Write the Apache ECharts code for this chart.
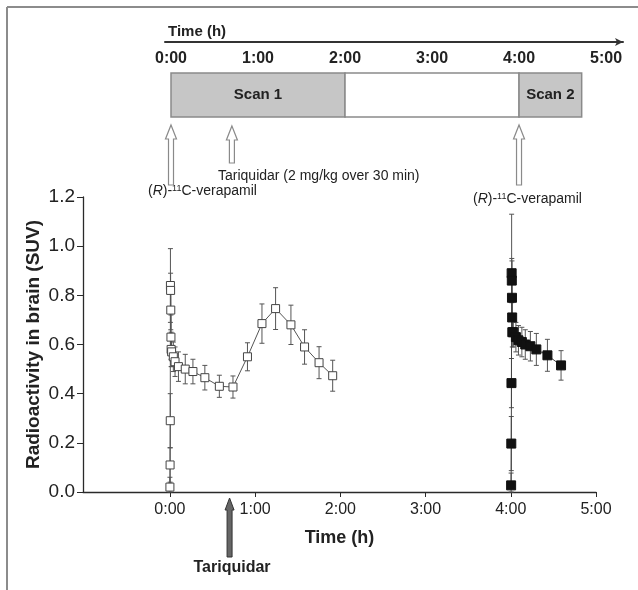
<!DOCTYPE html>
<html><head><meta charset="utf-8">
<script src="https://cdn.jsdelivr.net/npm/echarts@6/dist/echarts.min.js"></script>
<style>html,body{margin:0;padding:0;background:#fff}#c{width:638px;height:590px}</style>
</head><body><div id="c"></div>
<script>
// ---------- data ----------
const scan1Time = [0.000,0.002,0.004,0.006,0.008,0.010,0.012,0.014,0.02,0.04,0.06,0.10,0.18,0.27,0.41,0.58,0.74,0.91,1.08,1.24,1.42,1.58,1.75,1.91];
const scan1SUV  = [0.02,0.11,0.29,0.84,0.82,0.74,0.63,0.58,0.57,0.55,0.53,0.51,0.50,0.49,0.465,0.43,0.427,0.55,0.685,0.746,0.68,0.59,0.526,0.473];
const scan1SD   = [0.04,0.07,0.11,0.15,0.07,0.08,0.09,0.07,0.06,0.06,0.06,0.06,0.06,0.05,0.05,0.045,0.045,0.057,0.08,0.085,0.08,0.07,0.065,0.063];

const scan2Time = [4.004,4.006,4.008,4.010,4.012,4.014,4.016,4.018,4.03,4.06,4.09,4.13,4.17,4.23,4.30,4.43,4.59];
const scan2SUV  = [0.027,0.197,0.443,0.89,0.86,0.79,0.71,0.65,0.65,0.63,0.617,0.61,0.60,0.593,0.58,0.556,0.515];
const scan2SD   = [0.05,0.11,0.10,0.24,0.09,0.15,0.07,0.06,0.06,0.06,0.06,0.06,0.06,0.06,0.065,0.065,0.06];

const timeTicks = [0,1,2,3,4,5];

// timeline (top panel)
const scanStart = [0, 2, 4];
const scanEnd   = [2, 4, 4.72];
const scanLabel = ['Scan 1', '', 'Scan 2'];
const scanKind  = ['scan', 'gap', 'scan'];

// events (hours)
const verapamilTimes = [0, 4];
const tariquidarTime = 0.7;

// ---------- style ----------
const FF = "'Liberation Sans', Arial, Helvetica, sans-serif";
const AX = '#2a2a2a';
const boxFill = {scan: '#c6c6c6', gap: '#ffffff'};

function tfmt(v){ return Math.round(v) + ':00'; }
const pairs = (xs, ys) => xs.map((x, i) => [x, ys[i]]);
const triples = (xs, ys, es) => xs.map((x, i) => [x, ys[i], es[i]]);

function errRender(params, api){
  const x = api.value(0), y = api.value(1), e = api.value(2);
  const hi = api.coord([x, y + e]);
  const lo = api.coord([x, Math.max(0, y - e)]);
  const cw = 2.5;
  const st = {stroke: '#555', lineWidth: 1};
  return {type: 'group', children: [
    {type: 'line', shape: {x1: hi[0], y1: hi[1], x2: lo[0], y2: lo[1]}, style: st},
    {type: 'line', shape: {x1: hi[0]-cw, y1: hi[1], x2: hi[0]+cw, y2: hi[1]}, style: st},
    {type: 'line', shape: {x1: lo[0]-cw, y1: lo[1], x2: lo[0]+cw, y2: lo[1]}, style: st}
  ]};
}

function arrowPts(x, yTip, yBot, hw, hh, sw){
  return [[x, yTip],[x+hw, yTip+hh],[x+sw, yTip+hh],[x+sw, yBot],[x-sw, yBot],[x-sw, yTip+hh],[x-hw, yTip+hh]];
}

const BOX_TOP = 31, BOX_H = 44;

function boxRender(params, api){
  const i = params.dataIndex;
  const x0 = api.coord([api.value(0), 0])[0];
  const x1 = api.coord([api.value(1), 0])[0];
  const top = params.coordSys.y + BOX_TOP;
  const kids = [{type: 'rect', shape: {x: x0, y: top, width: x1 - x0, height: BOX_H},
    style: {fill: boxFill[scanKind[i]], stroke: '#8a8a8a', lineWidth: 1.5}}];
  if (scanLabel[i]) kids.push({type: 'text', x: (x0 + x1) / 2, y: top + BOX_H / 2,
    style: {text: scanLabel[i], font: 'bold 15px ' + FF, fill: '#222', align: 'center', verticalAlign: 'middle'}});
  return {type: 'group', children: kids};
}

function topArrowRender(params, api){
  const x = api.coord([api.value(0), 0])[0];
  const isT = api.value(1) === 1;
  const y0 = params.coordSys.y;
  const tip = y0 + (isT ? 84 : 83), bot = y0 + (isT ? 121 : 143);
  return {type: 'polygon', shape: {points: arrowPts(x, tip, bot, 5.5, 14, 2.5)},
    style: {fill: '#fff', stroke: '#8a8a8a', lineWidth: 1.2}};
}

function bottomArrowRender(params, api){
  const p = api.coord([api.value(0), 0]);
  return {type: 'polygon', shape: {points: arrowPts(p[0], p[1] + 6, p[1] + 65, 4.5, 12, 2.5)},
    style: {fill: '#666', stroke: '#333', lineWidth: 1}};
}

const topEvents = verapamilTimes.map(t => [t, 0]).concat([[tariquidarTime, 1]]);

const chart = echarts.init(document.getElementById('c'), null, {renderer: 'canvas'});

const supRich = {
  n: {fontSize: 14, fontFamily: FF, fill: '#222', fontWeight: 'normal'},
  i: {fontSize: 14, fontFamily: FF, fill: '#222', fontStyle: 'italic'},
  s: {fontSize: 9, fontFamily: FF, fill: '#222', verticalAlign: 'top'}
};
const verText = '{n|(}{i|R}{n|)-}{s|11}{n|C-verapamil}';

chart.setOption({
  animation: false,
  backgroundColor: '#fff',
  grid: [
    {left: 83, right: 42, top: 197, bottom: 98},
    {left: 165, right: 15, top: 42, height: 150}
  ],
  xAxis: [
    {type: 'value', gridIndex: 0, min: -1.02, max: 5,
      name: 'Time (h)', nameLocation: 'middle', nameGap: 37, nameMoveOverlap: false,
      nameTextStyle: {fontFamily: FF, fontWeight: 'bold', fontSize: 18, color: '#222'},
      axisLine: {onZero: false, lineStyle: {color: AX, width: 1.3}},
      axisTick: {customValues: timeTicks, length: 5, lineStyle: {color: AX}},
      axisLabel: {customValues: timeTicks, formatter: tfmt, fontFamily: FF, fontSize: 16, color: '#222', margin: 10},
      splitLine: {show: false}},
    {type: 'value', gridIndex: 1, position: 'top', min: -0.069, max: 5.195,
      axisLine: {onZero: false, lineStyle: {color: '#333', width: 2}, symbol: ['none', 'arrow'], symbolSize: [6, 8]},
      axisTick: {show: false},
      axisLabel: {customValues: timeTicks, inside: true, formatter: tfmt, fontFamily: FF, fontSize: 16, fontWeight: 'bold', color: '#222', margin: 9},
      splitLine: {show: false}}
  ],
  yAxis: [
    {type: 'value', gridIndex: 0, min: 0, max: 1.2, interval: 0.2,
      name: 'Radioactivity in brain (SUV)', nameLocation: 'middle', nameGap: 40, nameMoveOverlap: false,
      nameTextStyle: {fontFamily: FF, fontWeight: 'bold', fontSize: 19, color: '#222'},
      axisLine: {show: true, onZero: false, lineStyle: {color: AX, width: 1.3}},
      axisTick: {show: true, length: 6, lineStyle: {color: AX}},
      axisLabel: {formatter: v => v.toFixed(1), fontFamily: FF, fontSize: 19, color: '#222', margin: 8},
      splitLine: {show: false}},
    {type: 'value', gridIndex: 1, min: 0, max: 1, show: false}
  ],
  series: [
    {type: 'custom', name: 'err1', xAxisIndex: 0, yAxisIndex: 0, renderItem: errRender,
      data: triples(scan1Time, scan1SUV, scan1SD), z: 1, silent: true},
    {type: 'custom', name: 'err2', xAxisIndex: 0, yAxisIndex: 0, renderItem: errRender,
      data: triples(scan2Time, scan2SUV, scan2SD), z: 1, silent: true},
    {type: 'line', name: 'Scan 1', xAxisIndex: 0, yAxisIndex: 0, data: pairs(scan1Time, scan1SUV),
      symbol: 'rect', symbolSize: 8, showAllSymbol: true,
      itemStyle: {color: '#fff', borderColor: '#444', borderWidth: 1},
      lineStyle: {color: '#555', width: 1}, z: 3},
    {type: 'line', name: 'Scan 2', xAxisIndex: 0, yAxisIndex: 0, data: pairs(scan2Time, scan2SUV),
      symbol: 'rect', symbolSize: 9, showAllSymbol: true,
      itemStyle: {color: '#111', borderColor: '#111', borderWidth: 1},
      lineStyle: {color: '#444', width: 1}, z: 3},
    {type: 'custom', name: 'boxes', xAxisIndex: 1, yAxisIndex: 1, renderItem: boxRender, clip: false,
      data: scanStart.map((s, i) => [s, scanEnd[i]]), silent: true},
    {type: 'custom', name: 'topArrows', xAxisIndex: 1, yAxisIndex: 1, renderItem: topArrowRender, clip: false,
      data: topEvents, silent: true},
    {type: 'custom', name: 'bottomArrow', xAxisIndex: 0, yAxisIndex: 0, renderItem: bottomArrowRender, clip: false,
      data: [[tariquidarTime]], silent: true, z: 5}
  ],
  graphic: [
    {type: 'line', shape: {x1: 7, y1: 7, x2: 638, y2: 7}, style: {stroke: '#8c8c8c', lineWidth: 2}},
    {type: 'line', shape: {x1: 7, y1: 7, x2: 7, y2: 590}, style: {stroke: '#8c8c8c', lineWidth: 2}},
    {type: 'text', left: 168, top: 24, style: {text: 'Time (h)', font: 'bold 15px ' + FF, fill: '#222'}},
    {type: 'text', left: 218, top: 169, style: {text: 'Tariquidar (2 mg/kg over 30 min)', font: '14px ' + FF, fill: '#222'}},
    {type: 'text', left: 148, top: 184, style: {text: verText, rich: supRich}},
    {type: 'text', left: 473, top: 192, style: {text: verText, rich: supRich}},
    {type: 'text', x: 232, y: 568, style: {text: 'Tariquidar', font: 'bold 16px ' + FF, fill: '#222', align: 'center', verticalAlign: 'middle'}}
  ]
});
</script></body></html>
